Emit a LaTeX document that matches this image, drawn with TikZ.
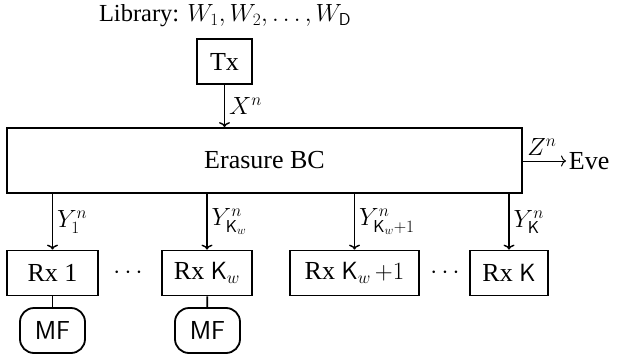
\documentclass[tikz,border=0pt]{standalone}
\usepackage[no-math]{fontspec}
\setmainfont{Liberation Serif}
\usetikzlibrary{arrows.meta}
\begin{document}
\begin{tikzpicture}[x=1pt,y=-1pt, line width=1.8pt,
  font=\fontsize{26}{31}\selectfont,
  box/.style={draw, inner sep=0pt, minimum height=45pt},
  mf/.style={draw, rounded corners=14pt, inner sep=0pt, minimum width=65pt,
    minimum height=45pt, font=\fontsize{26}{31}\selectfont\sffamily},
  lab/.style={inner sep=4pt},
  arr/.style={line width=1.4pt, -{To[length=5pt,width=11pt]}}]
\useasboundingbox (0,0) rectangle (618,361);
\node (lib) at (225,16) {\fontsize{24.5}{29}\selectfont Library: $W_1, W_2, \ldots, W_{\mathsf{D}}$};
\node[box, minimum width=55pt] (tx) at (224.5,61.5) {Tx};
\node[draw, inner sep=0pt, minimum width=515pt, minimum height=65pt] (ebc) at (264.5,160.5) {Erasure BC};
\node[inner sep=2pt, anchor=west] (eve) at (566,161) {Eve};
\node[box, minimum width=91pt] (rx1) at (52.5,273) {Rx 1};
\node[box, minimum width=90pt] (rxkw) at (207,273) {Rx $\mathsf{K}_w$};
\node[box, minimum width=129pt] (rxkw1) at (354.5,273) {Rx $\mathsf{K}_w{\,+}1$};
\node[box, minimum width=78pt] (rxk) at (509,273) {Rx $\mathsf{K}$};
\node (dots1) at (128,273) {$\cdots$};
\node (dots2) at (445,273) {$\cdots$};
\node[mf] (mf1) at (52.5,330.5) {MF};
\node[mf] (mf2) at (207.5,330.5) {MF};
\draw[arr] (tx) -- node[lab, right] {$X^n$} (tx |- ebc.north);
\draw[arr, line width=1pt] (ebc.east |- eve) -- node[inner sep=0pt, anchor=south west, pos=0, xshift=4pt, yshift=5pt] {$Z^n$} (eve.west);
\draw[arr] (rx1 |- ebc.south) -- node[lab, right] {$Y_1^n$} (rx1);
\draw[arr] (rxkw |- ebc.south) -- node[lab, right] {$Y_{\mathsf{K}_w}^n$} (rxkw);
\draw[arr] (rxkw1 |- ebc.south) -- node[lab, right] {$Y_{\mathsf{K}_w+1}^n$} (rxkw1);
\draw[arr] (rxk |- ebc.south) -- node[lab, right] {$Y_{\mathsf{K}}^n$} (rxk);
\draw (rx1) -- (mf1);
\draw (rxkw) -- (mf2);
\end{tikzpicture}
\end{document}
